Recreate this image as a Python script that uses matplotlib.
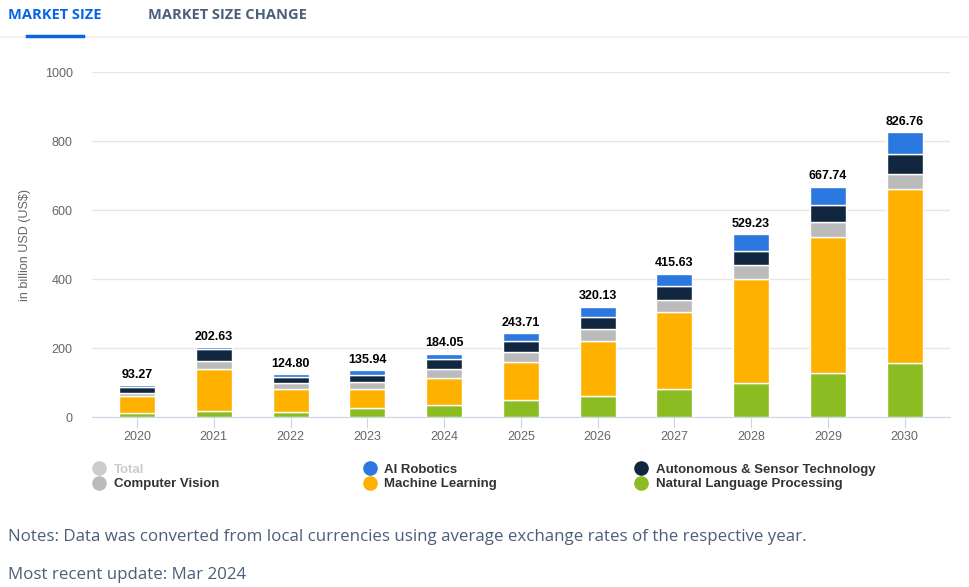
import numpy as np
import matplotlib.pyplot as plt
from matplotlib.lines import Line2D

# Dane (mld USD)
years = ['2020', '2021', '2022', '2023', '2024', '2025', '2026', '2027', '2028', '2029', '2030']
nlp = [11, 18, 15, 26.5, 34.5, 48, 60.5, 81, 100, 127, 156]
machine_learning = [50, 122, 66.5, 54, 78.5, 110.5, 161, 222, 300, 396, 503.5]
computer_vision = [10, 22.5, 16.5, 22, 26.5, 29, 33, 36.5, 40, 42.5, 46]
autonomous = [15.5, 33.5, 17, 20.5, 27.5, 33, 36.3, 39, 42, 48.7, 55.5]
ai_robotics = [6.77, 6.63, 9.8, 12.94, 17.05, 23.21, 29.33, 37.13, 47.23, 53.54, 65.76]
totals = [93.27, 202.63, 124.80, 135.94, 184.05, 243.71, 320.13, 415.63, 529.23, 667.74, 826.76]

series = [
    ('Natural Language Processing', nlp, '#8bbc21'),
    ('Machine Learning', machine_learning, '#ffb100'),
    ('Computer Vision', computer_vision, '#bbbbbb'),
    ('Autonomous & Sensor Technology', autonomous, '#11263f'),
    ('AI Robotics', ai_robotics, '#2b78e0'),
]

plt.rcParams['font.family'] = ['Liberation Sans', 'DejaVu Sans']

fig = plt.figure(figsize=(9.69, 5.87), dpi=100)
ax = fig.add_axes([0.095, 0.2896, 0.885, 0.5877])

x = np.arange(len(years))
bottom = np.zeros(len(years))
for name, vals, col in series:
    vals = np.array(vals)
    ax.bar(x, vals, bottom=bottom, width=0.47, color=col, edgecolor='white',
           linewidth=1.0, zorder=3)
    bottom += vals

for xi, tot in zip(x, totals):
    ax.annotate(f'{tot:.2f}', (xi, tot), xytext=(0, 3), textcoords='offset points',
                ha='center', va='bottom', fontsize=9, fontweight='bold', color='#000000')

ax.set_ylim(0, 1000)
ax.set_xlim(-0.586, 10.586)
ax.set_yticks([0, 200, 400, 600, 800, 1000])
ax.set_xticks(x)
ax.set_xticklabels(years)
ax.grid(axis='y', color='#e6e6e6', linewidth=1, zorder=0)
for s in ['top', 'right', 'left']:
    ax.spines[s].set_visible(False)
ax.spines['bottom'].set_color('#ccd6eb')
ax.tick_params(axis='y', length=0, labelsize=9, labelcolor='#666666', pad=14)
ax.tick_params(axis='x', length=8, color='#ccd6eb', labelsize=9, labelcolor='#666666', pad=2)
ax.set_ylabel('in billion USD (US$)', fontsize=9, color='#666666', labelpad=10)

# Legenda w trzech kolumnach
def mk(color):
    return Line2D([], [], marker='o', linestyle='none', markersize=9.5,
                  markerfacecolor=color, markeredgecolor=color)

legend_cols = [
    (0.0954, [('Total', '#cccccc', '#cccccc'), ('Computer Vision', '#bbbbbb', '#333333')]),
    (0.375, [('AI Robotics', '#2b78e0', '#333333'), ('Machine Learning', '#ffb100', '#333333')]),
    (0.6547, [('Autonomous & Sensor Technology', '#11263f', '#333333'),
              ('Natural Language Processing', '#8bbc21', '#333333')]),
]
for xpos, items in legend_cols:
    leg = fig.legend([mk(c) for _, c, _ in items], [n for n, _, _ in items],
                     loc='upper left', bbox_to_anchor=(xpos, 0.210), frameon=False,
                     handletextpad=0.6, labelspacing=0.15, borderpad=0, borderaxespad=0,
                     handlelength=1.0, prop={'size': 9.5, 'weight': 'bold'})
    for t, (_, _, tc) in zip(leg.get_texts(), items):
        t.set_color(tc)

# Zakładki u góry
fig.text(0.008, 0.975, 'MARKET SIZE', fontsize=10.5, fontweight='bold', color='#0666e5',
         family='Open Sans', va='center')
fig.text(0.153, 0.975, 'MARKET SIZE CHANGE', fontsize=10.5, fontweight='bold', color='#4c5f79',
         family='Open Sans', va='center')
fig.add_artist(Line2D([0, 1], [0.937, 0.937], color='#eef1f5', linewidth=1.5))
fig.add_artist(Line2D([0.028, 0.086], [0.938, 0.938], color='#0666e5', linewidth=2.5))

# Notatki
fig.text(0.008, 0.085, 'Notes: Data was converted from local currencies using average exchange rates of the respective year.',
         fontsize=12.15, color='#4c5f79', family='Open Sans', va='center')
fig.text(0.008, 0.020, 'Most recent update: Mar 2024',
         fontsize=12.15, color='#4c5f79', family='Open Sans', va='center')

fig.savefig('out.png', dpi=100)
